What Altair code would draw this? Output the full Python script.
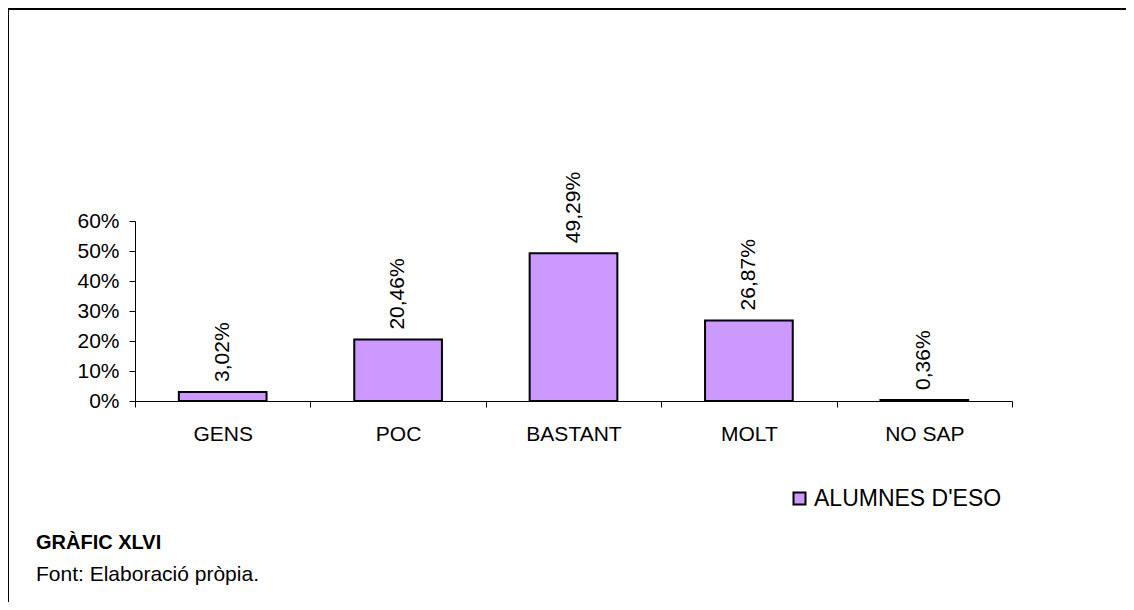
import altair as alt
import pandas as pd

categories = ["GENS", "POC", "BASTANT", "MOLT", "NO SAP"]
values = [3.02, 20.46, 49.29, 26.87, 0.36]
series_name = "ALUMNES D'ESO"
y_ticks = [0, 0.1, 0.2, 0.3, 0.4, 0.5, 0.6]
title_text = "GRÀFIC XLVI"
source_text = "Font: Elaboració pròpia."

FONT = "Liberation Sans"

df = pd.DataFrame({
    "cat": categories,
    "val": [v / 100 for v in values],
    "label": [f"{v:.2f}".replace(".", ",") + "%" for v in values],
    "serie": [series_name] * len(categories),
})

x = alt.X("cat:N", sort=categories, title=None,
          scale=alt.Scale(paddingInner=0, paddingOuter=0),
          axis=alt.Axis(labelAngle=0, tickBand="extent", domainColor="black",
                        tickColor="black", tickSize=6, labelPadding=16,
                        labelFontSize=21, labelFont=FONT, labelColor="black",
                        grid=False, domainWidth=1, tickWidth=1, labelOverlap=False))
y = alt.Y("val:Q", title=None,
          scale=alt.Scale(domain=[0, 0.6], nice=False),
          axis=alt.Axis(values=y_ticks, tickCount=7, format=".0%", domainColor="black",
                        tickColor="black", tickSize=6, labelPadding=10,
                        labelFontSize=21, labelFont=FONT, labelColor="black",
                        grid=False, domainWidth=1, tickWidth=1, labelOverlap=False,
                        labelBound=False, labelFlush=False))

bars = alt.Chart(df).mark_bar(
    width=alt.RelativeBandSize(0.5), stroke="black", strokeWidth=2
).encode(
    x=x, y=y,
    fill=alt.Fill("serie:N", title=None,
                  scale=alt.Scale(domain=[series_name], range=["#CC99FF"]),
                  legend=alt.Legend(orient="none", legendX=653, legendY=266,
                                    symbolType="square", symbolSize=144,
                                    symbolStrokeColor="black", symbolStrokeWidth=2,
                                    labelFontSize=23, labelFont=FONT,
                                    labelColor="black", labelOffset=3,
                                    labelLimit=0, padding=0)),
)

labels = alt.Chart(df).mark_text(
    angle=270, align="left", baseline="middle", dx=10,
    fontSize=21, font=FONT, color="black"
).encode(x=x, y=y, text="label:N")

frame_top = alt.Chart(df).mark_rule(color="black", strokeWidth=2).encode(
    x=alt.value(-128), x2=alt.value(1100), y=alt.value(-212))
frame_left = alt.Chart(df).mark_rule(color="black", strokeWidth=2).encode(
    x=alt.value(-127), y=alt.value(-213), y2=alt.value(450))

title_mark = alt.Chart(pd.DataFrame({"t": [title_text]})).mark_text(
    align="left", baseline="alphabetic", fontSize=20, fontWeight="bold",
    font=FONT, color="black"
).encode(text="t:N", x=alt.value(-99), y=alt.value(328))

source_mark = alt.Chart(pd.DataFrame({"t": [source_text]})).mark_text(
    align="left", baseline="alphabetic", fontSize=21,
    font=FONT, color="black"
).encode(text="t:N", x=alt.value(-99), y=alt.value(360))

chart = alt.layer(frame_top, frame_left, bars, labels, title_mark, source_mark).properties(
    width=877, height=180,
    padding={"left": 127, "top": 213, "right": 114, "bottom": 201},
    autosize=alt.AutoSizeParams(type="none"),
).configure(background="white", view=alt.ViewConfig(stroke=None, strokeWidth=0))

chart.save("out.html", embed_options={"renderer": "svg", "actions": False})
